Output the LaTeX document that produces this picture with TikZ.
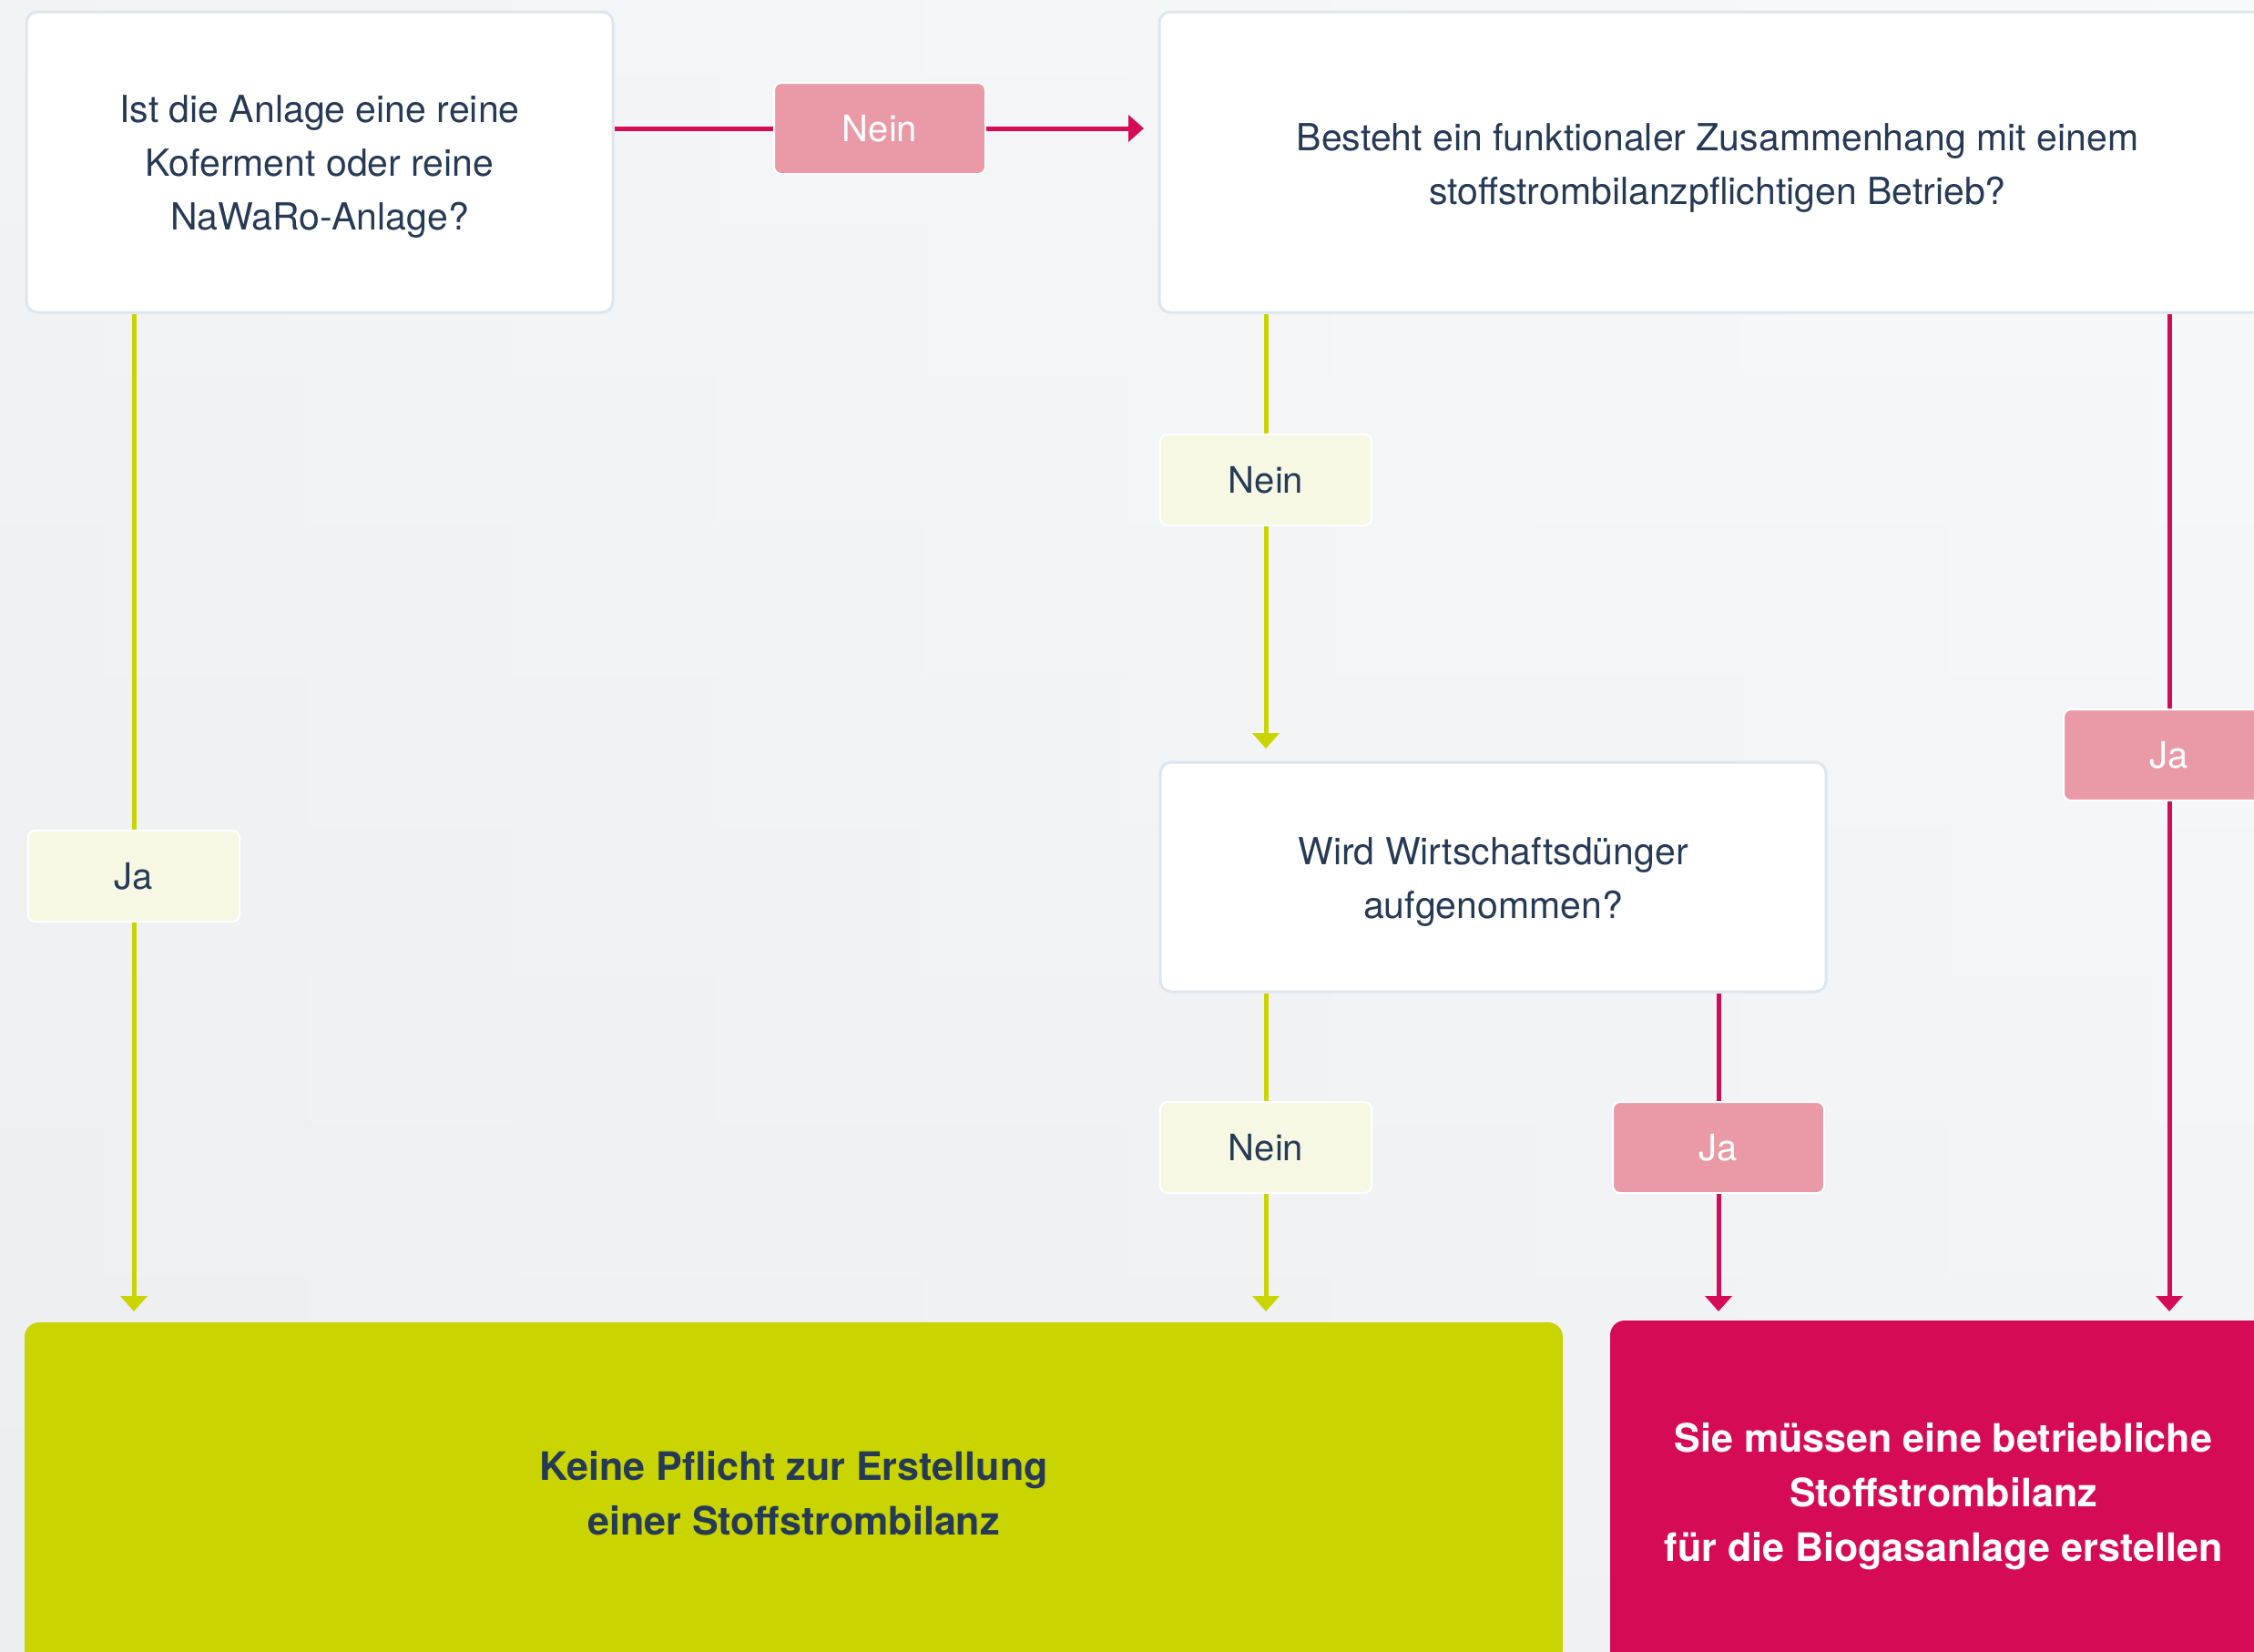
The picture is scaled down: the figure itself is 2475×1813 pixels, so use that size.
\documentclass[tikz,border=0pt]{standalone}
\usepackage{fontspec}
\setmainfont{TeX Gyre Heros}
\usetikzlibrary{arrows.meta}
\definecolor{bgA}{HTML}{ECEEF0}
\definecolor{bgB}{HTML}{F8F9FA}
\definecolor{navy}{HTML}{263A56}
\definecolor{mag}{HTML}{D60B56}
\definecolor{pinklab}{HTML}{E99AA6}
\definecolor{lime}{HTML}{C9D400}
\definecolor{limelab}{HTML}{F6F8E4}
\definecolor{boxline}{HTML}{DDE6EF}
\tikzset{
  qbox/.style={draw=boxline, line width=3pt, fill=white, rounded corners=12pt, inner sep=0pt},
  qtext/.style={align=center, text=navy, font=\fontsize{41}{59}\selectfont, inner sep=0pt},
  lablime/.style={draw=white, line width=2pt, fill=limelab, rounded corners=8pt,
    minimum width=232pt, minimum height=100pt, text=navy, font=\fontsize{40}{48}\selectfont, inner sep=0pt},
  labpink/.style={draw=white, line width=2pt, fill=pinklab, rounded corners=8pt,
    minimum width=232pt, minimum height=100pt, text=white, font=\fontsize{40}{48}\selectfont, inner sep=0pt},
  resbox/.style={rounded corners=16pt, inner sep=0pt},
  restext/.style={align=center, inner sep=0pt, font=\bfseries\fontsize{43}{60}\selectfont},
  limeline/.style={draw=lime, line width=5pt},
  magline/.style={draw=mag, line width=5pt},
  tipto/.style={-{Triangle[width=29pt,length=17pt]}}
}
\begin{document}
\begin{tikzpicture}[x=1pt,y=-1pt]
\useasboundingbox (0,0) rectangle (2475,1813);
\clip (0,0) rectangle (2475,1813);
\shade[left color=bgA, right color=bgB] (0,0) rectangle (2475,1813);
\shade[top color=bgB, bottom color=bgA, opacity=0.5] (0,0) rectangle (2475,1813);

% question boxes
\node[qbox, minimum width=644pt, minimum height=330pt] (q1) at (351,178) {};
\node[qtext] (q1t) at ([yshift=-5pt]q1.center)
  {Ist die Anlage eine reine\\Koferment oder reine\\NaWaRo-Anlage?};
\node[qbox, minimum width=1226pt, minimum height=330pt] (q2) at (1886,178) {};
\node[qtext] (q2t) at ([yshift=-6pt]q2.center)
  {Besteht ein funktionaler Zusammenhang mit einem\\stoffstrombilanzpflichtigen Betrieb?};
\node[qbox, minimum width=731pt, minimum height=252pt] (q3) at (1639.5,963) {};
\node[qtext] (q3t) at ([yshift=-5pt]q3.center)
  {Wird Wirtschaftsdünger\\aufgenommen?};

% result boxes
\node[resbox, fill=lime, minimum width=1689pt, minimum height=376pt] (rno) at (871.5,1640) {};
\node[restext, text=navy] (rnot) at (rno.center)
  {Keine Pflicht zur Erstellung\\einer Stoffstrombilanz};
\node[resbox, fill=mag, minimum width=732pt, minimum height=378pt] (ryes) at (2134,1639) {};
\node[restext, text=white] (ryest) at ([yshift=-4pt]ryes.center)
  {Sie müssen eine betriebliche\\Stoffstrombilanz\\für die Biogasanlage erstellen};

% labels
\node[labpink] (n1) at (966,141) {Nein};
\node[lablime] (j1) at (147,962) {Ja};
\node[lablime] (n2) at (1390,527) {Nein};
\node[lablime] (n3) at (1390,1260) {Nein};
\node[labpink] (j2) at (1887,1260) {Ja};
\node[labpink] (j3) at (2382,829) {Ja};

% end points of arrows
\coordinate (e1) at (1256,141);
\coordinate (e2) at (147,1440);
\coordinate (e3) at (1390,822);
\coordinate (e4) at (1390,1440);
\coordinate (e5) at (1887,1440);
\coordinate (e6) at (2382,1440);

% connectors
\draw[magline] (q1.east |- n1) -- (n1.west);
\draw[magline, tipto] (n1.east) -- (e1);

\draw[limeline] (q1.south -| j1) -- (j1.north);
\draw[limeline, tipto] (j1.south) -- (e2);

\draw[limeline] (q2.south -| n2) -- (n2.north);
\draw[limeline, tipto] (n2.south) -- (e3);

\draw[limeline] (q3.south -| n3) -- (n3.north);
\draw[limeline, tipto] (n3.south) -- (e4);

\draw[magline] (q3.south -| j2) -- (j2.north);
\draw[magline, tipto] (j2.south) -- (e5);

\draw[magline] (q2.south -| j3) -- (j3.north);
\draw[magline, tipto] (j3.south) -- (e6);
\end{tikzpicture}
\end{document}
